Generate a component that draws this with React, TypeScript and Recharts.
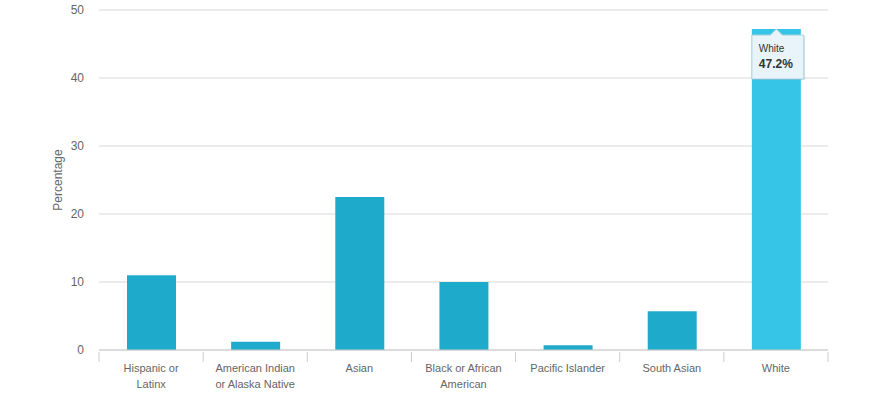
import { BarChart, Bar, XAxis, YAxis, CartesianGrid, Cell, LabelList } from "recharts";

// categorias y valores
const groups = [
  "Hispanic or Latinx",
  "American Indian or Alaska Native",
  "Asian",
  "Black or African American",
  "Pacific Islander",
  "South Asian",
  "White",
];
const groupLines = [
  ["Hispanic or", "Latinx"],
  ["American Indian", "or Alaska Native"],
  ["Asian"],
  ["Black or African", "American"],
  ["Pacific Islander"],
  ["South Asian"],
  ["White"],
];
const percentages = [11.0, 1.2, 22.5, 10.0, 0.7, 5.7, 47.2];
const yTicks = [0, 10, 20, 30, 40, 50];
const highlighted = "White";

const data = groups.map((g, i) => ({ group: g, pct: percentages[i], lines: groupLines[i] }));

const W = 892;
const H = 399;
const M = { top: 10, right: 64, left: 0, bottom: 0 };
const Y_W = 99;
const X_H = 49;
const band = (W - M.left - M.right - Y_W) / groups.length;
const FONT = '"Liberation Sans", Arial, sans-serif';

function XTick(props: any) {
  const { x, y, payload, index } = props;
  const lines = groupLines[index] || [payload.value];
  const left = x - band / 2;
  return (
    <g>
      <line x1={left} x2={left} y1={y} y2={y + 10} stroke="#cccccc" />
      {index === groups.length - 1 && (
        <line x1={x + band / 2} x2={x + band / 2} y1={y} y2={y + 10} stroke="#cccccc" />
      )}
      {lines.map((l: string, k: number) => (
        <text key={k} x={x} y={y + 20 + k * 16} textAnchor="middle" fill="#666666" fontSize={11} fontFamily={FONT}>
          {l}
        </text>
      ))}
    </g>
  );
}

function TipLabel(props: any) {
  const { x, y, width, value, index } = props;
  if (groups[index] !== highlighted) return null;
  const cx = x + width / 2;
  const bx = x;
  const by = y + 6;
  const bw = 52;
  const bh = 44;
  const path = `M${bx},${by} L${cx - 6},${by} L${cx},${y} L${cx + 6},${by} L${bx + bw},${by} L${bx + bw},${by + bh} L${bx},${by + bh} Z`;
  return (
    <g>
      <path d={path} transform="translate(1,1)" fill="rgba(0,0,0,0.12)" />
      <path d={path} fill="#e8f4f9" stroke="#a9cfe0" strokeWidth={1} />
      <text x={bx + 7} y={by + 17} fill="#333333" fontSize={10} fontFamily={FONT}>
        {groups[index]}
      </text>
      <text x={bx + 7} y={by + 33} fill="#333333" fontSize={12} fontWeight="bold" fontFamily={FONT}>
        {value}%
      </text>
    </g>
  );
}

export default function App() {
  return (
    <div style={{ position: "absolute", top: 0, left: 0, width: W, height: H, background: "#fff" }}>
      <BarChart width={W} height={H} data={data} margin={M} barSize={49}>
        <CartesianGrid vertical={false} stroke="#d8d8d8" />
        <XAxis
          dataKey="group"
          interval={0}
          height={X_H}
          axisLine={{ stroke: "#cccccc" }}
          tickLine={false}
          tickSize={0}
          tick={<XTick />}
        />
        <YAxis
          width={Y_W}
          domain={[0, 50]}
          ticks={yTicks}
          axisLine={false}
          tickLine={false}
          tickSize={0}
          tickMargin={15}
          tick={{ fill: "#666666", fontSize: 12, fontFamily: FONT }}
          label={{
            value: "Percentage",
            angle: -90,
            position: "insideLeft",
            offset: 58,
            style: { fill: "#666666", fontSize: 12, fontFamily: FONT, textAnchor: "middle" },
          }}
        />
        <Bar dataKey="pct" isAnimationActive={false}>
          {data.map((d) => (
            <Cell key={d.group} fill={d.group === highlighted ? "#36c5e6" : "#1eabcb"} />
          ))}
          <LabelList dataKey="pct" content={<TipLabel />} />
        </Bar>
      </BarChart>
    </div>
  );
}
